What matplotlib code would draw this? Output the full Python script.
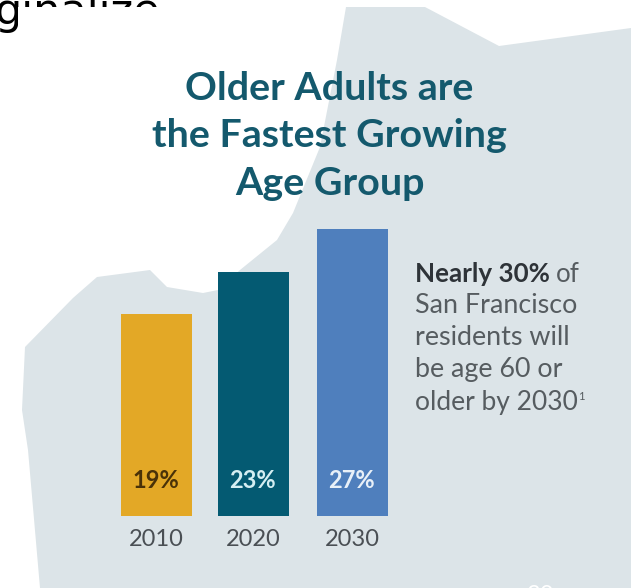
import matplotlib
matplotlib.use("Agg")
import matplotlib.pyplot as plt
from matplotlib.patches import Polygon, Rectangle

W, H = 631, 588

# Chart data
years = [2010, 2020, 2030]
shares = [19, 23, 27]
share_labels = ["19%", "23%", "27%"]
bar_colors = ["#e3a826", "#045a72", "#4f7fbd"]
label_colors = ["#4a3208", "#d4eef2", "#e8f0f8"]

# Outline of the map shape behind the chart, in pixels from the top left
map_x = [346, 425, 499, 631, 631, 40, 28, 22, 25, 73, 97, 150, 167, 203, 218, 240, 277, 293, 320, 337]
map_y = [7, 7, 46, 28, 588, 588, 450, 410, 347, 298, 277, 270, 287, 293, 290, 270, 240, 213, 147, 60]

plt.rcParams["font.family"] = ["Lato", "DejaVu Sans"]

fig = plt.figure(figsize=(W / 100, H / 100), dpi=100, facecolor="white")

# Full figure layer working in pixels for the background and free text
bg = fig.add_axes([0, 0, 1, 1])
bg.set_xlim(0, W)
bg.set_ylim(H, 0)
bg.axis("off")
bg.add_patch(Polygon(list(zip(map_x, map_y)), closed=True, facecolor="#dce4e8", edgecolor="none"))

# Heading left over from the slide above, partly covered by the white panel
bg.text(-5, 24, "ginalize", fontsize=31, color="black", family="DejaVu Sans", va="baseline", ha="left", zorder=1)
bg.add_patch(Rectangle((18, 7), 200, 35, facecolor="white", edgecolor="none", zorder=2))

# Title
title_lines = ["Older Adults are", "the Fastest Growing", "Age Group"]
title_y = [100, 147, 195]
for line, y in zip(title_lines, title_y):
    bg.text(329.5, y, line, fontsize=28.4, fontweight="bold", color="#14596d", ha="center", va="baseline")

# Side note
note_lines = ["San Francisco", "residents will", "be age 60 or"]
note_y = [313, 345, 377]
bg.text(415, 282, "Nearly 30%", fontsize=18.7, fontweight="bold", color="#2e3338", ha="left", va="baseline")
bg.text(556, 282, "of", fontsize=18.7, color="#565c60", ha="left", va="baseline")
for line, y in zip(note_lines, note_y):
    bg.text(415, y, line, fontsize=19.4, color="#565c60", ha="left", va="baseline")
bg.text(415, 410, "older by 2030", fontsize=19, color="#565c60", ha="left", va="baseline")
bg.text(578, 400, "1", fontsize=8, color="#565c60", ha="left", va="baseline")

# Slide number, mostly cropped
bg.text(527, 602, "30", fontsize=17, color="white", ha="left", va="baseline")

# Bars: baseline at y=516 px, 10.63 px per percentage point
ax_left, ax_right = 107, 402
ax_top, ax_bottom = 216, 516
bar_centers = [156.5, 253.5, 352.5]
ax = fig.add_axes([ax_left / W, 1 - ax_bottom / H, (ax_right - ax_left) / W, (ax_bottom - ax_top) / H])
ax.patch.set_alpha(0)
ax.set_ylim(0, (ax_bottom - ax_top) / 10.63)
ax.set_xlim(ax_left, ax_right)
bars = ax.bar(bar_centers, shares, width=71, color=bar_colors)
for bar, label, color in zip(bars, share_labels, label_colors):
    ax.annotate(label, (bar.get_x() + bar.get_width() / 2 - 1, 0), xytext=(0, 20), textcoords="offset points",
                ha="center", va="baseline", fontsize=17, fontweight="bold", color=color)
for spine in ax.spines.values():
    spine.set_visible(False)
ax.set_yticks([])
ax.set_xticks(bar_centers)
ax.set_xticklabels(years, fontsize=17, color="#4a4f54")
ax.tick_params(axis="x", length=0, pad=9)

fig.savefig("out.png", dpi=100)
